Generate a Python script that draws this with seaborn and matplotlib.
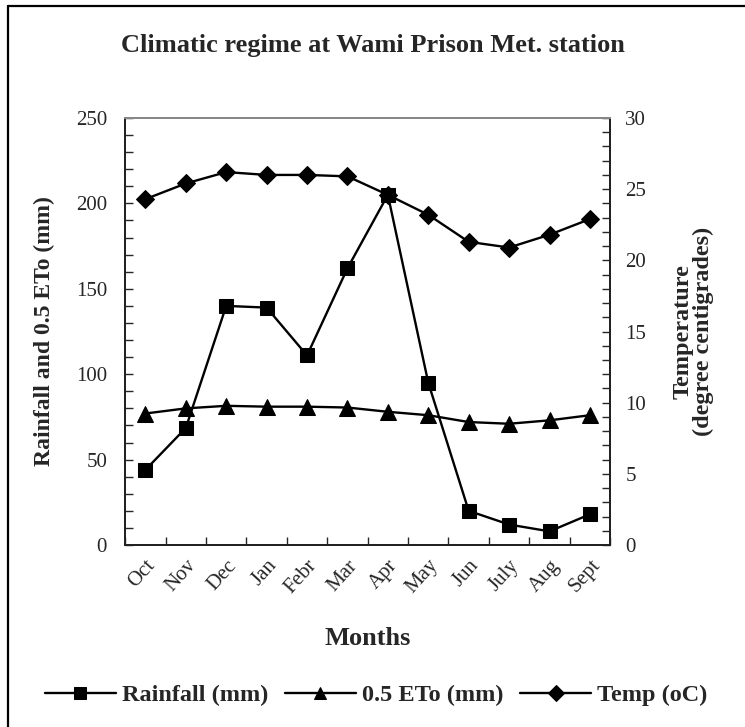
import numpy as np
import matplotlib
matplotlib.use("Agg")
import matplotlib.pyplot as plt
import matplotlib.transforms as mtransforms
from matplotlib.ticker import MultipleLocator, FixedLocator
from matplotlib.lines import Line2D
import pandas as pd
import seaborn as sns

sns.set_style("ticks")
plt.rcParams['font.family'] = ['Liberation Serif', 'DejaVu Serif']

# data
months = ["Oct", "Nov", "Dec", "Jan", "Febr", "Mar", "Apr", "May", "Jun", "July", "Aug", "Sept"]
rainfall = [44, 68.5, 140, 139, 111, 162, 205, 95, 20, 12, 8, 18]
eto_half = [77, 80, 81.5, 81, 81, 80.5, 78, 76, 72, 71, 73, 76]
temp = [24.3, 25.4, 26.2, 26.0, 26.0, 25.9, 24.6, 23.2, 21.3, 20.9, 21.8, 22.9]

df = pd.DataFrame({"Month": months, "Rainfall": rainfall, "ETo": eto_half, "Temp": temp})

fig = plt.figure(figsize=(7.45, 7.27), dpi=100)
ax = fig.add_axes([0.168, 0.2503, 0.651, 0.5874])
ax2 = ax.twinx()

sns.lineplot(data=df, x="Month", y="Rainfall", ax=ax, color="black", marker="s",
             markersize=9.5, markeredgecolor="black", linewidth=1.7, sort=False, label="Rainfall (mm)")
sns.lineplot(data=df, x="Month", y="ETo", ax=ax, color="black", marker="^",
             markersize=11, markeredgecolor="black", linewidth=1.7, sort=False, label="0.5 ETo (mm)")
sns.lineplot(data=df, x="Month", y="Temp", ax=ax2, color="black", marker="D",
             markersize=9, markeredgecolor="black", linewidth=1.7, sort=False, label="Temp (oC)")

ax.set_xlim(-0.5, len(months) - 0.5)
ax.set_ylim(0, 250)
ax2.set_ylim(0, 30)

ax.yaxis.set_major_locator(MultipleLocator(50))
ax.yaxis.set_minor_locator(MultipleLocator(10))
ax2.yaxis.set_major_locator(MultipleLocator(5))
ax2.yaxis.set_minor_locator(MultipleLocator(1))

ax.set_xticks(range(len(months)))
ax.set_xticklabels(months, rotation=48, ha="right", va="top", rotation_mode="anchor", fontsize=15)
shift = mtransforms.ScaledTranslation(-8 / 100, -7 / 100, fig.dpi_scale_trans)
for lab in ax.get_xticklabels():
    lab.set_transform(lab.get_transform() + shift)
ax.xaxis.set_minor_locator(FixedLocator(np.arange(-0.5, len(months), 1)))
ax.tick_params(axis="x", which="major", length=0, pad=8)
ax.tick_params(axis="x", which="minor", direction="in", length=6, width=1)
ax.tick_params(axis="y", which="both", direction="in", length=6, width=1, labelsize=15, pad=13)
ax2.tick_params(axis="y", which="both", direction="in", length=6, width=1, labelsize=15, pad=11)

for a in (ax, ax2):
    for s in a.spines.values():
        s.set_linewidth(1.4)
        s.set_color("#222222")
ax.spines["top"].set_color("#888888")
ax2.spines["top"].set_color("#888888")

ax.set_xlabel("Months", fontsize=19, fontweight="bold", labelpad=21)
ax.set_ylabel("Rainfall and 0.5 ETo (mm)", fontsize=17, fontweight="bold", labelpad=15)
ax2.set_ylabel("Temperature\n(degree centigrades)", fontsize=17.5, fontweight="bold",
               rotation=90, labelpad=19, linespacing=0.95)

ax.get_legend().remove()
ax2.get_legend().remove()
h1, l1 = ax.get_legend_handles_labels()
h2, l2 = ax2.get_legend_handles_labels()
fig.legend(h1 + h2, l1 + l2, loc="center", bbox_to_anchor=(0.505, 0.044), ncol=3,
           frameon=False, prop={"size": 17.5, "weight": "bold"}, handlelength=2.9,
           handletextpad=0.25, columnspacing=0.7, markerscale=0.85)

fig.suptitle("Climatic regime at Wami Prison Met. station", x=0.5, y=0.938, va="center",
             fontsize=19, fontweight="bold")

# frame of the chart area (only left and top edges show in the crop)
fig.add_artist(Line2D([8 / 745, 8 / 745], [0, 1 - 6 / 727], transform=fig.transFigure,
                      color="black", linewidth=1.6))
fig.add_artist(Line2D([8 / 745, 1], [1 - 6 / 727, 1 - 6 / 727], transform=fig.transFigure,
                      color="black", linewidth=1.6))

fig.savefig("out.png", dpi=100)
